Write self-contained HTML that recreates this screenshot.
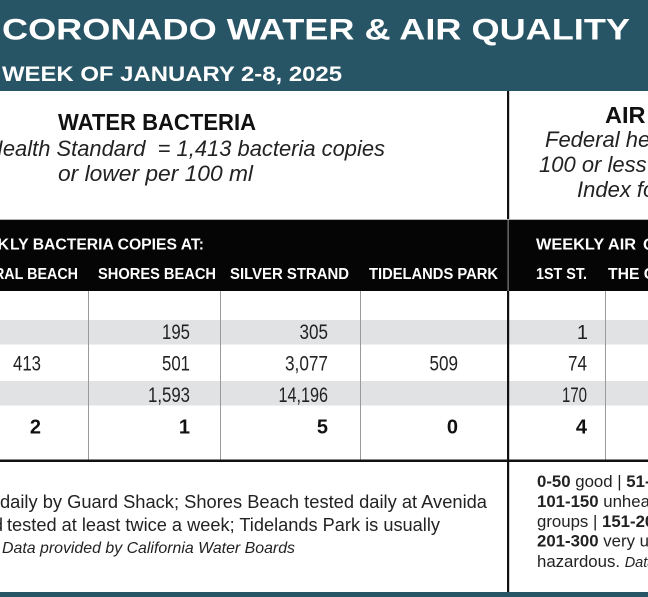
<!DOCTYPE html>
<html>
<head>
<meta charset="utf-8">
<style>
  html, body { margin: 0; padding: 0; background: #fff; }
  svg { display: block; }
  text { font-family: "Liberation Sans", "DejaVu Sans", sans-serif; }
</style>
</head>
<body>
<svg width="648" height="597" viewBox="0 0 648 597" xmlns="http://www.w3.org/2000/svg">
  <rect x="0" y="0" width="648" height="597" fill="#ffffff"/>

  <!-- Top teal band -->
  <rect x="0" y="0" width="648" height="91" fill="#285566"/>
  <text x="2" y="39.5" font-size="30" font-weight="bold" fill="#ffffff" textLength="628" lengthAdjust="spacingAndGlyphs">CORONADO WATER &amp; AIR QUALITY</text>
  <text x="2" y="81" font-size="21" font-weight="bold" fill="#ffffff" textLength="340" lengthAdjust="spacingAndGlyphs">WEEK OF JANUARY 2-8, 2025</text>

  <!-- Water header -->
  <text x="58" y="130" font-size="23.5" font-weight="bold" fill="#111" textLength="198" lengthAdjust="spacingAndGlyphs">WATER BACTERIA</text>
  <text x="-13" y="156" font-size="22" font-style="italic" fill="#222" textLength="398" lengthAdjust="spacingAndGlyphs" xml:space="preserve">Health Standard  = 1,413 bacteria copies</text>
  <text x="58" y="181" font-size="22" font-style="italic" fill="#222" textLength="195" lengthAdjust="spacingAndGlyphs">or lower per 100 ml</text>

  <!-- Air header -->
  <text x="605" y="123" font-size="23.5" font-weight="bold" fill="#111">AIR QUALITY</text>
  <text x="545" y="147" font-size="22" font-style="italic" fill="#222">Federal health standard is</text>
  <text x="539" y="172" font-size="22" font-style="italic" fill="#222">100 or less on Air Quality</text>
  <text x="577" y="197" font-size="22" font-style="italic" fill="#222">Index for ozone</text>

  <!-- gray line above black block -->
  <rect x="0" y="219" width="648" height="1" fill="#b5b5b5"/>
  <!-- Black header block -->
  <rect x="0" y="220" width="648" height="71" fill="#050505"/>
  <text x="9" y="249.5" font-size="16" font-weight="bold" fill="#fff" text-anchor="end">WEEK</text>
  <text x="10" y="249.5" font-size="16" font-weight="bold" fill="#fff" textLength="194" lengthAdjust="spacingAndGlyphs">LY BACTERIA COPIES AT:</text>
  <text x="78" y="279" font-size="16" font-weight="bold" fill="#fff" text-anchor="end" textLength="123" lengthAdjust="spacingAndGlyphs">CENTRAL BEACH</text>
  <text x="216" y="279" font-size="16" font-weight="bold" fill="#fff" text-anchor="end" textLength="118" lengthAdjust="spacingAndGlyphs">SHORES BEACH</text>
  <text x="349" y="279" font-size="16" font-weight="bold" fill="#fff" text-anchor="end" textLength="119" lengthAdjust="spacingAndGlyphs">SILVER STRAND</text>
  <text x="498" y="279" font-size="16" font-weight="bold" fill="#fff" text-anchor="end" textLength="129" lengthAdjust="spacingAndGlyphs">TIDELANDS PARK</text>
  <text x="536" y="249.5" font-size="16" font-weight="bold" fill="#fff" textLength="100" lengthAdjust="spacingAndGlyphs">WEEKLY AIR</text>
  <text x="643" y="249.5" font-size="16" font-weight="bold" fill="#fff">QUALITY</text>
  <text x="536" y="279" font-size="16" font-weight="bold" fill="#fff" textLength="51" lengthAdjust="spacingAndGlyphs">1ST ST.</text>
  <text x="608" y="279" font-size="16" font-weight="bold" fill="#fff" textLength="78" lengthAdjust="spacingAndGlyphs">THE CAYS</text>

  <!-- Gray data rows -->
  <rect x="0" y="320" width="648" height="24.5" fill="#e1e2e4"/>
  <rect x="0" y="381" width="648" height="24.5" fill="#e1e2e4"/>

  <!-- Column dividers -->
  <g stroke="#999999" stroke-width="1">
    <line x1="88.5" y1="291" x2="88.5" y2="460"/>
    <line x1="220.5" y1="291" x2="220.5" y2="460"/>
    <line x1="360.5" y1="291" x2="360.5" y2="460"/>
    <line x1="605.5" y1="291" x2="605.5" y2="460"/>
  </g>

  <!-- Bottom table line -->
  <rect x="0" y="459.5" width="648" height="2.5" fill="#111"/>

  <!-- Data numbers -->
  <g font-size="21" fill="#222" text-anchor="end">
    <text x="190" y="339" textLength="28" lengthAdjust="spacingAndGlyphs">195</text>
    <text x="328" y="339" textLength="28.5" lengthAdjust="spacingAndGlyphs">305</text>
    <text x="588" y="339" font-size="20">1</text>

    <text x="41" y="370.5" textLength="28" lengthAdjust="spacingAndGlyphs">413</text>
    <text x="190" y="370.5" textLength="28" lengthAdjust="spacingAndGlyphs">501</text>
    <text x="328" y="370.5" textLength="43" lengthAdjust="spacingAndGlyphs">3,077</text>
    <text x="458" y="370.5" textLength="28.5" lengthAdjust="spacingAndGlyphs">509</text>
    <text x="587" y="370.5" textLength="19" lengthAdjust="spacingAndGlyphs">74</text>

    <text x="190" y="402" textLength="42" lengthAdjust="spacingAndGlyphs">1,593</text>
    <text x="328" y="402" textLength="49.5" lengthAdjust="spacingAndGlyphs">14,196</text>
    <text x="587" y="402" textLength="25" lengthAdjust="spacingAndGlyphs">170</text>
  </g>
  <g font-size="20" font-weight="bold" fill="#111" text-anchor="end">
    <text x="41" y="433.5">2</text>
    <text x="190" y="433.5">1</text>
    <text x="328" y="433.5">5</text>
    <text x="458" y="433.5">0</text>
    <text x="587" y="433.5">4</text>
  </g>

  <!-- Left footnote -->
  <text x="0" y="508" font-size="18" fill="#222" textLength="487" lengthAdjust="spacingAndGlyphs">daily by Guard Shack; Shores Beach tested daily at Avenida</text>
  <text x="3" y="531" font-size="18" fill="#222" text-anchor="end">Strand</text>
  <text x="7" y="531" font-size="18" fill="#222" textLength="433" lengthAdjust="spacingAndGlyphs">tested at least twice a week; Tidelands Park is usually</text>
  <text x="2" y="553" font-size="16" font-style="italic" fill="#222" textLength="293" lengthAdjust="spacingAndGlyphs">Data provided by California Water Boards</text>

  <!-- Right footnote -->
  <g font-size="16.8" fill="#222">
    <text x="537" y="487"><tspan font-weight="bold">0-50</tspan> good | <tspan font-weight="bold">51-100</tspan> moderate</text>
    <text x="537" y="507"><tspan font-weight="bold">101-150</tspan> unhealthy for sensitive</text>
    <text x="537" y="527">groups | <tspan font-weight="bold">151-200</tspan> unhealthy |</text>
    <text x="537" y="546.5"><tspan font-weight="bold">201-300</tspan> very unhealthy |</text>
    <text x="537" y="567">hazardous. <tspan font-style="italic" font-size="14.5">Data provided by AirNow</tspan></text>
  </g>

  <!-- Main vertical divider -->
  <rect x="507" y="91" width="2.2" height="128" fill="#111"/>
  <rect x="507.6" y="220" width="1" height="71" fill="#9a9a9a"/>
  <rect x="507" y="291" width="2.2" height="301" fill="#111"/>

  <!-- Bottom teal band -->
  <rect x="0" y="592" width="648" height="5" fill="#285566"/>
</svg>
</body>
</html>
